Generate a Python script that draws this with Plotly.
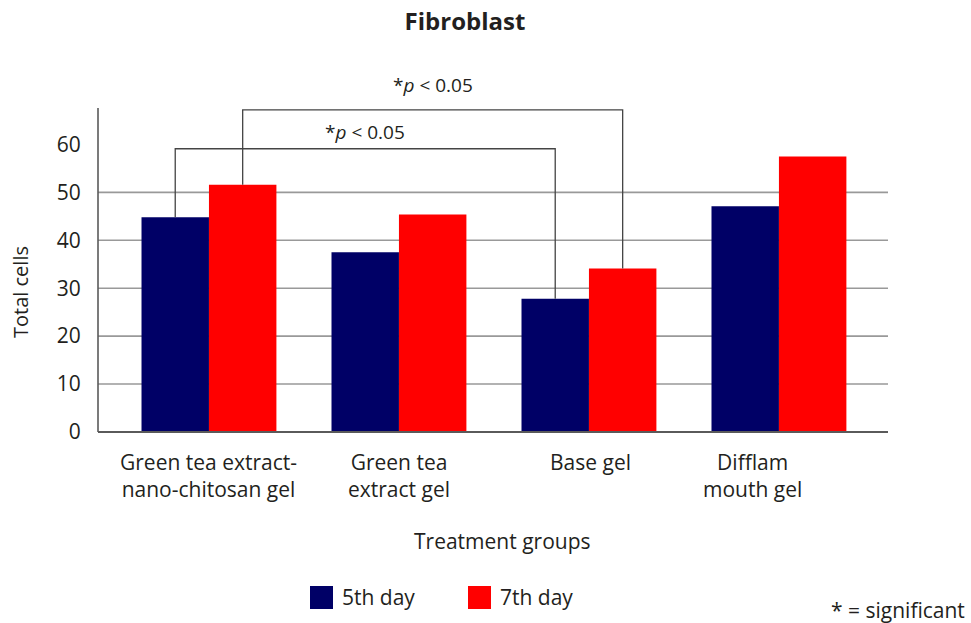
import plotly.graph_objects as go

# ---- data ----
categories = ["Green tea extract-<br>nano-chitosan gel", "Green tea<br>extract gel", "Base gel", "Difflam<br>mouth gel"]
series_names = ["5th day", "7th day"]
day5 = [44.8, 37.5, 27.8, 47.1]
day7 = [51.6, 45.4, 34.1, 57.5]
y_ticks = [0, 10, 20, 30, 40, 50, 60]
grid_values = [10, 20, 30, 40, 50]
colors = ["#000066", "#ff0000"]
# significance brackets: (group a, group b, series index, bracket height, label)
brackets = [(0, 2, 0, 59.1, "*<i>p</i> < 0.05"), (0, 2, 1, 67.2, "*<i>p</i> < 0.05")]

FONT = "Open Sans"
TXT = "#231f20"

# plot-area geometry (pixels)
W, H = 971, 623
L, R, T, B = 98, 888, 108, 432


def px_x(px):
    return (px - L) / (R - L)


def px_y(py):
    return (B - py) / (B - T)


xs = list(range(len(categories)))
fig = go.Figure()
for name, vals, col in zip(series_names, [day5, day7], colors):
    fig.add_trace(go.Bar(x=xs, y=vals, name=name, marker=dict(color=col, line=dict(width=0)),
                         showlegend=False))

bar_w = 0.355
offsets = [-bar_w / 2, bar_w / 2]
series_vals = [day5, day7]

shapes = []
# gridlines
for g in grid_values:
    shapes.append(dict(type="line", xref="paper", yref="y", x0=0, x1=1, y0=g, y1=g,
                       line=dict(color="#999999", width=1.6), layer="below"))
# axis lines
shapes.append(dict(type="line", xref="paper", yref="paper", x0=0, x1=0, y0=0, y1=1,
                   line=dict(color="#5a5a5a", width=1.6)))
shapes.append(dict(type="line", xref="paper", yref="paper", x0=0, x1=1, y0=0, y1=0,
                   line=dict(color="#5a5a5a", width=1.8)))

annotations = []
for (a, b, s, h, lab), ysh in zip(brackets, [17, 25]):
    xa = xs[a] + offsets[s]
    xb = xs[b] + offsets[s]
    ya = series_vals[s][a]
    yb = series_vals[s][b]
    shapes.append(dict(type="path", xref="x", yref="y",
                       path=f"M {xa},{ya} L {xa},{h} L {xb},{h} L {xb},{yb}",
                       line=dict(color="#444444", width=1.3)))
    annotations.append(dict(x=(xa + xb) / 2, y=h, xref="x", yref="y", text=lab, showarrow=False,
                            xanchor="center", yanchor="middle", yshift=ysh,
                            font=dict(family=FONT, size=19, color=TXT)))

# category labels
xshifts = [0, 0, 2, -26]
for x, c, xsft in zip(xs, categories, xshifts):
    annotations.append(dict(x=x, y=0, xref="x", yref="y", text=c, showarrow=False,
                            xanchor="center", yanchor="top", yshift=-14, xshift=xsft, align="center",
                            font=dict(family=FONT, size=21, color=TXT)))

# axis titles
annotations.append(dict(x=px_x(503), y=px_y(541), xref="paper", yref="paper", text="Treatment groups",
                        showarrow=False, xanchor="center", yanchor="middle",
                        font=dict(family=FONT, size=21, color=TXT)))
annotations.append(dict(x=px_x(20), y=px_y(292), xref="paper", yref="paper", text="Total cells",
                        showarrow=False, textangle=-90, xanchor="center", yanchor="middle",
                        font=dict(family=FONT, size=20, color=TXT)))

# legend (drawn)
leg_x = [310, 468]
for name, col, lx in zip(series_names, colors, leg_x):
    shapes.append(dict(type="rect", xref="paper", yref="paper", x0=px_x(lx), x1=px_x(lx + 23),
                       y0=px_y(609), y1=px_y(586), fillcolor=col, line=dict(width=0)))
    annotations.append(dict(x=px_x(lx + 30), y=px_y(597), xref="paper", yref="paper", text=name,
                            showarrow=False, xanchor="left", yanchor="middle",
                            font=dict(family=FONT, size=21, color=TXT)))

annotations.append(dict(x=px_x(967), y=px_y(610), xref="paper", yref="paper", text="* = significant",
                        showarrow=False, xanchor="right", yanchor="middle",
                        font=dict(family=FONT, size=21, color=TXT)))

fig.update_layout(
    width=W, height=H,
    margin=dict(l=L, r=W - R, t=T, b=H - B, pad=0),
    paper_bgcolor="white", plot_bgcolor="white",
    barmode="group", bargap=0.29, bargroupgap=0,
    title=dict(text="<b>Fibroblast</b>", x=465 / W, xanchor="center",
               y=1 - 22 / H, yanchor="middle", yref="container", xref="container",
               font=dict(family=FONT, size=24, color=TXT)),
    xaxis=dict(range=[-0.584, 3.574], showticklabels=False, showgrid=False, zeroline=False,
               showline=False, ticks=""),
    yaxis=dict(range=[0, 67.6], tickvals=y_ticks, showgrid=False, zeroline=False, showline=False,
               ticks="outside", ticklen=12, tickcolor="rgba(0,0,0,0)",
               tickfont=dict(family=FONT, size=21, color=TXT)),
    shapes=shapes, annotations=annotations,
    font=dict(family=FONT),
)

fig.write_html("out.html", config={"displayModeBar": False},
               post_script="document.body.style.margin='0';")
